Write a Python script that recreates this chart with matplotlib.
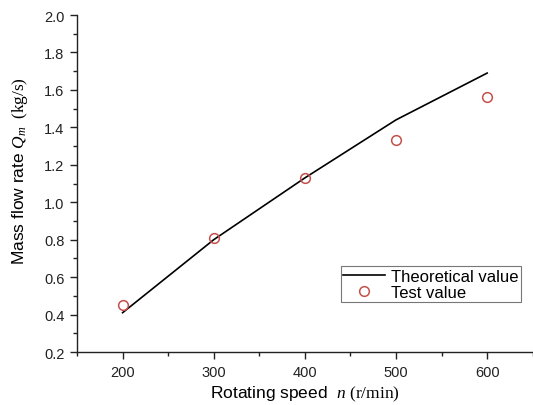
import matplotlib
matplotlib.use("Agg")
import matplotlib.pyplot as plt
from matplotlib.ticker import MultipleLocator, FormatStrFormatter

plt.rcParams["font.family"] = ["Liberation Sans", "DejaVu Sans"]
plt.rcParams["mathtext.fontset"] = "custom"
plt.rcParams["mathtext.rm"] = "Liberation Serif"
plt.rcParams["mathtext.it"] = "Liberation Serif:italic"

# Rotating speed (r/min) and mass flow rate (kg/s)
speed = [200, 300, 400, 500, 600]
theoretical = [0.41, 0.80, 1.13, 1.44, 1.69]
test = [0.45, 0.81, 1.13, 1.33, 1.56]

fig = plt.figure(figsize=(5.33, 4.06), dpi=100)
ax = fig.add_axes([0.1445, 0.1305, 0.855, 0.830])

ax.plot(speed, theoretical, color="black", lw=1.2, label="Theoretical value")
ax.plot(speed, test, ls="none", marker="o", ms=7, mfc="none",
        mec="#c4504c", mew=1.1, label="Test value")

ax.set_xlim(150, 650)
ax.set_ylim(0.2, 2.0)
ax.xaxis.set_major_locator(MultipleLocator(100))
ax.xaxis.set_minor_locator(MultipleLocator(50))
ax.yaxis.set_major_locator(MultipleLocator(0.2))
ax.yaxis.set_minor_locator(MultipleLocator(0.1))
ax.yaxis.set_major_formatter(FormatStrFormatter("%.1f"))

for side in ("top", "right"):
    ax.spines[side].set_visible(False)
for side in ("left", "bottom"):
    ax.spines[side].set_linewidth(1.0)
    ax.spines[side].set_color("#222222")

ax.tick_params(which="major", direction="out", length=5, width=1.0,
               labelsize=10.5, colors="#222222", pad=4)
ax.tick_params(which="minor", direction="out", length=3, width=1.0,
               colors="#222222")

ax.set_xlabel(r"Rotating speed  $n$$\ (\mathrm{r/min})$", fontsize=12.5,
              labelpad=4)
ax.set_ylabel(r"Mass flow rate $Q_m$$\;\ (\mathrm{kg/s})$", fontsize=12.5)
ax.yaxis.set_label_coords(-0.103, 0.54)

leg = ax.legend(loc="lower right", bbox_to_anchor=(0.975, 0.148),
                fontsize=12, frameon=True, fancybox=False,
                borderpad=0.15, labelspacing=0.05, handlelength=2.5,
                handletextpad=0.4, borderaxespad=0.0)
leg.get_frame().set_edgecolor("#555555")
leg.get_frame().set_linewidth(0.8)

fig.savefig("out.png", dpi=100)
